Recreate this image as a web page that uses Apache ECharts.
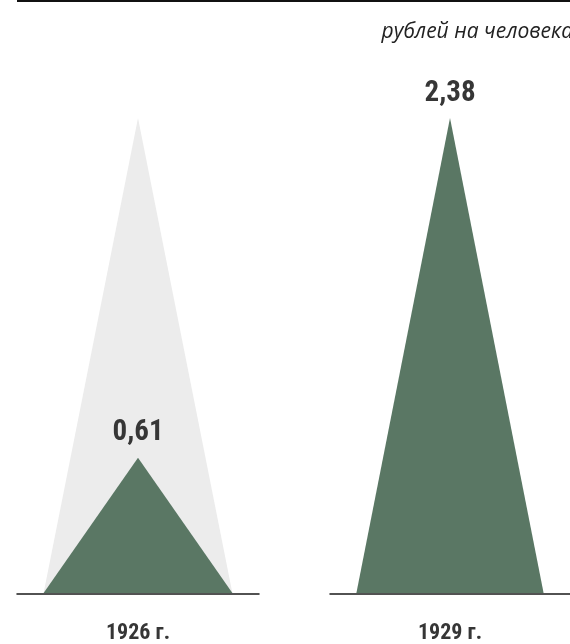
<!DOCTYPE html>
<html>
<head>
<meta charset="utf-8">
<script src="https://cdn.jsdelivr.net/npm/echarts@6/dist/echarts.min.js"></script>
<style>
html,body{margin:0;padding:0;background:#fff;}
#c{width:570px;height:644px;}
</style>
</head>
<body>
<div id="c"></div>
<script>
// Data
const years = ['1926 г.', '1929 г.'];
const values = [0.61, 2.38];
const unitLabel = 'рублей на человека';
const referenceValue = 2.38; // background (ghost) triangle height for comparison

const GREEN = '#5a7764';
const GHOST = '#ececec';
const TEXT = '#363636';
const NUM_FONT = "'Liberation Sans Narrow', 'Roboto Condensed', 'DejaVu Sans Condensed', Roboto, sans-serif";
const Y_MIN = -0.1;

function fmt(v){ return v.toFixed(2).replace('.', ','); }

function makeRender(showLabel){
  return function(params, api){
    const idx = api.value(0);
    const v = api.value(1);
    const base = api.coord([idx, Y_MIN]);
    const top = api.coord([idx, v]);
    const w = api.size([1, 0])[0] * 0.78;
    const children = [{
      type: 'polygon',
      shape: { points: [[base[0] - w/2, base[1] - 1], [top[0], top[1]], [base[0] + w/2, base[1] - 1]] },
      style: { fill: api.visual('color') }
    }];
    if (showLabel) {
      children.push({
        type: 'text',
        style: {
          text: fmt(v), x: top[0], y: top[1] - 10,
          align: 'center', verticalAlign: 'bottom',
          fontFamily: NUM_FONT, fontWeight: 'bold', fontSize: 29, fill: TEXT
        }
      });
    }
    return { type: 'group', children: children };
  };
}

const grids = [
  { left: 17, width: 242, top: 118, bottom: 43 },
  { left: 330, width: 242, top: 118, bottom: 43 }
];
const xAxes = years.map((y, i) => ({
  type: 'category', gridIndex: i, data: [y],
  axisLine: { show: true, onZero: false, lineStyle: { color: '#1a1a1a', width: 1.5 } },
  axisTick: { show: false },
  axisLabel: { margin: 28, color: TEXT, fontFamily: NUM_FONT, fontWeight: 'bold', fontSize: 22 }
}));
const yAxes = years.map((y, i) => ({
  type: 'value', gridIndex: i, min: Y_MIN, max: referenceValue, show: false,
  splitLine: { show: false }
}));

const series = [{
  type: 'custom', xAxisIndex: 0, yAxisIndex: 0,
  itemStyle: { color: GHOST },
  renderItem: makeRender(false),
  data: [[0, referenceValue]], silent: true, z: 1
}];
values.forEach((v, i) => {
  series.push({
    type: 'custom', xAxisIndex: i, yAxisIndex: i,
    itemStyle: { color: GREEN },
    renderItem: makeRender(true),
    data: [[0, v]], z: 2
  });
});

const chart = echarts.init(document.getElementById('c'), null, { renderer: 'canvas' });
chart.setOption({
  animation: false,
  backgroundColor: '#fff',
  grid: grids,
  xAxis: xAxes,
  yAxis: yAxes,
  series: series,
  graphic: [
    { type: 'line', shape: { x1: 17, y1: 1, x2: 570, y2: 1 }, style: { stroke: '#111', lineWidth: 2 } },
    { type: 'text', style: { text: unitLabel, x: 573, y: 32, align: 'right', verticalAlign: 'middle',
      fontFamily: "'Open Sans', 'Noto Sans', sans-serif", fontStyle: 'italic', fontSize: 21, fill: '#222' } }
  ]
});
</script>
</body>
</html>
